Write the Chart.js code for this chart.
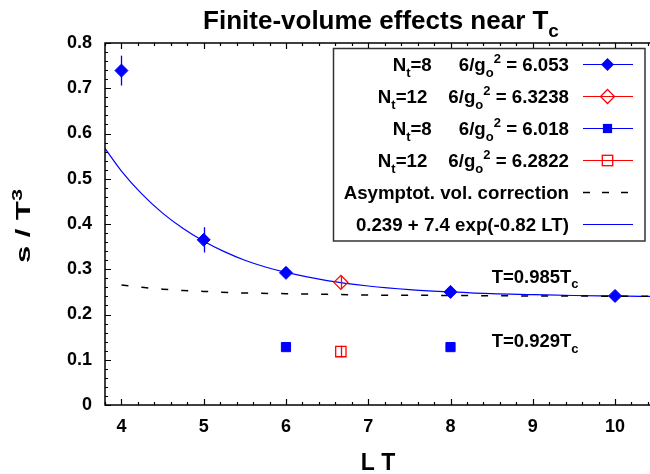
<!DOCTYPE html>
<html><head><meta charset="utf-8">
<script src="https://cdn.jsdelivr.net/npm/chart.js@4.4.1/dist/chart.umd.min.js"></script>
<style>html,body{margin:0;padding:0;background:#fff;overflow:hidden}</style>
</head><body>
<canvas id="c" width="650" height="474"></canvas>
<script>
// ---- data ----
const xTicks = [4, 5, 6, 7, 8, 9, 10];
const yTicks = [0, 0.1, 0.2, 0.3, 0.4, 0.5, 0.6, 0.7, 0.8];

// Nt=8, 6/g0^2 = 6.053 (T = 0.985 Tc)
const ltA  = [4, 5, 6, 8, 10];
const sA   = [0.739, 0.365, 0.292, 0.250, 0.241];
const errA = [0.033, 0.028, 0.005, 0.004, 0.003];
// Nt=12, 6/g0^2 = 6.3238
const ltB  = [6.667];
const sB   = [0.271];
const errB = [0.015];
// Nt=8, 6/g0^2 = 6.018 (T = 0.929 Tc)
const ltC  = [6, 8];
const sC   = [0.128, 0.128];
const errC = [0.003, 0.003];
// Nt=12, 6/g0^2 = 6.2822
const ltD  = [6.667];
const sD   = [0.118];
const errD = [0.013];
// fit curve
const fitLT = [3.8, 4, 4.25, 4.5, 4.75, 5, 5.25, 5.5, 5.75, 6, 6.5, 7, 7.5, 8, 8.5, 9, 9.5, 10, 10.425];
const fitS  = [0.567, 0.517, 0.466, 0.424, 0.390, 0.362, 0.339, 0.320, 0.305, 0.293, 0.275, 0.263, 0.255, 0.250, 0.246, 0.244, 0.242, 0.241, 0.240];
// asymptotic volume correction (dashed)
const asyLT = [4, 4.25, 4.5, 4.75, 5, 5.5, 6, 6.5, 7, 7.5, 8, 8.5, 9, 9.5, 10, 10.425];
const asyS  = [0.265, 0.260, 0.256, 0.253, 0.251, 0.2475, 0.246, 0.2445, 0.243, 0.2425, 0.242, 0.2415, 0.241, 0.2408, 0.2405, 0.2403];

const legendRows = [
  {n: [['N',0],['t',1],['=8',0]],  g: [['6/g',0],['o',1],['2',2],[' = 6.053',0]],  gap: 27, kind: 'A'},
  {n: [['N',0],['t',1],['=12',0]], g: [['6/g',0],['o',1],['2',2],[' = 6.3238',0]], gap: 21, kind: 'B'},
  {n: [['N',0],['t',1],['=8',0]],  g: [['6/g',0],['o',1],['2',2],[' = 6.018',0]],  gap: 27, kind: 'C'},
  {n: [['N',0],['t',1],['=12',0]], g: [['6/g',0],['o',1],['2',2],[' = 6.2822',0]], gap: 21, kind: 'D'},
  {n: null, g: [['Asymptot. vol. correction',0]], kind: 'asy'},
  {n: null, g: [['0.239 + 7.4 exp(-0.82 LT)',0]], kind: 'fit'}
];
const annotations = [
  {x: 8.5, y: 0.27,  segs: [['T=0.985T',0],['c',1]]},
  {x: 8.5, y: 0.128, segs: [['T=0.929T',0],['c',1]]}
];

// ---- styling ----
const FONT = '"Liberation Sans", Arial, Helvetica, sans-serif';
const BLUE = '#0000ff', RED = '#ff0000';

function richWidth(ctx, segs, size) {
  let w = 0;
  segs.forEach(([t, m]) => { ctx.font = `bold ${m ? Math.round(size*0.72) : size}px ${FONT}`; w += ctx.measureText(t).width; });
  return w;
}
function drawRich(ctx, segs, x, y, align, size) {
  const total = richWidth(ctx, segs, size);
  let cx = align === 'right' ? x - total : align === 'center' ? x - total/2 : x;
  ctx.textAlign = 'left'; ctx.textBaseline = 'alphabetic'; ctx.fillStyle = '#000';
  segs.forEach(([t, m]) => {
    const sz = m ? Math.round(size*0.72) : size;
    ctx.font = `bold ${sz}px ${FONT}`;
    const dy = m === 1 ? size*0.3 : m === 2 ? -size*0.42 : 0;
    ctx.fillText(t, cx, y + dy);
    cx += ctx.measureText(t).width;
  });
  return total;
}
function marker(ctx, kind, x, y) {
  ctx.save();
  ctx.lineWidth = 1.3;
  if (kind === 'A' || kind === 'B') {
    const r = kind === 'A' ? 6.5 : 7;
    ctx.beginPath(); ctx.moveTo(x, y-r); ctx.lineTo(x+r, y); ctx.lineTo(x, y+r); ctx.lineTo(x-r, y); ctx.closePath();
    if (kind === 'A') { ctx.fillStyle = BLUE; ctx.fill(); } else { ctx.strokeStyle = RED; ctx.stroke(); }
  } else {
    const h = kind === 'C' ? 4.6 : 5.2;
    if (kind === 'C') { ctx.fillStyle = BLUE; ctx.fillRect(x-h, y-h, 2*h, 2*h); }
    else { ctx.strokeStyle = RED; ctx.strokeRect(x-h, y-h, 2*h, 2*h); }
  }
  ctx.restore();
}

const errorSets = [
  {lt: ltA, s: sA, e: errA, color: BLUE},
  {lt: ltB, s: sB, e: errB, color: RED},
  {lt: ltC, s: sC, e: errC, color: BLUE},
  {lt: ltD, s: sD, e: errD, color: RED}
];

const decorPlugin = {
  id: 'decor',
  afterDatasetsDraw(chart) {
    const {ctx, chartArea: a, scales: {x, y}} = chart;
    ctx.save();
    ctx.beginPath(); ctx.rect(a.left, a.top, a.right - a.left, a.bottom - a.top); ctx.clip();
    ctx.lineWidth = 1.3;
    errorSets.forEach(set => {
      ctx.strokeStyle = set.color;
      set.lt.forEach((v, i) => {
        const px = Math.round(x.getPixelForValue(v)) + 0.5;
        ctx.beginPath();
        ctx.moveTo(px, y.getPixelForValue(set.s[i] - set.e[i]));
        ctx.lineTo(px, y.getPixelForValue(set.s[i] + set.e[i]));
        ctx.stroke();
      });
    });
    ctx.restore();
  },
  afterDraw(chart) {
    const {ctx, chartArea: a, scales: {x, y}} = chart;
    ctx.save();
    // frame
    ctx.strokeStyle = '#000'; ctx.lineWidth = 1.5;
    ctx.beginPath();
    ctx.moveTo(a.right + 2, a.top); ctx.lineTo(a.left, a.top); ctx.lineTo(a.left, a.bottom); ctx.lineTo(a.right + 2, a.bottom);
    ctx.stroke();
    // ticks (inward), major + minor
    ctx.lineWidth = 1.2;
    ctx.beginPath();
    for (let k = Math.ceil(x.min * 5); k <= Math.floor(x.max * 5); k++) {
      const v = k / 5, px = Math.round(x.getPixelForValue(v)) + 0.5;
      const len = (k % 5 === 0) ? 6 : 3;
      ctx.moveTo(px, a.bottom); ctx.lineTo(px, a.bottom - len);
      ctx.moveTo(px, a.top); ctx.lineTo(px, a.top + len);
    }
    for (let k = 0; k <= 40; k++) {
      const v = k / 50, py = Math.round(y.getPixelForValue(v)) + 0.5;
      const len = (k % 5 === 0) ? 6 : 3;
      ctx.moveTo(a.left, py); ctx.lineTo(a.left + len, py);
    }
    ctx.stroke();

    // title
    drawRich(ctx, [['Finite-volume effects near T',0],['c',1]], 381, 29, 'center', 26);
    // x title
    ctx.font = `bold 23px ${FONT}`; ctx.textAlign = 'center'; ctx.textBaseline = 'alphabetic'; ctx.fillStyle = '#000';
    ctx.fillText('L T', 378, 470);
    // y title (rotated)
    ctx.save();
    ctx.translate(30, 226);
    ctx.rotate(-Math.PI/2);
    ctx.scale(1.55, 1);
    drawRich(ctx, [['s / T',0],['3',2]], 0, 0, 'center', 20);
    ctx.restore();

    // annotations
    annotations.forEach(an => drawRich(ctx, an.segs, x.getPixelForValue(an.x), y.getPixelForValue(an.y), 'left', 18.5));

    // legend box
    ctx.fillStyle = '#fff';
    ctx.fillRect(333, 48, 312, 193);
    ctx.strokeStyle = '#333'; ctx.lineWidth = 1.5;
    ctx.strokeRect(333.5, 48.5, 311.5, 192.5);
    legendRows.forEach((row, i) => {
      const base = 71 + i * 32;
      const w = drawRich(ctx, row.g, 569, base, 'right', 18.7);
      if (row.n) drawRich(ctx, row.n, 569 - w - row.gap, base, 'right', 18.7);
      const cy = base - 6.5;
      ctx.save();
      ctx.lineWidth = 1.2;
      if (row.kind === 'asy') { ctx.strokeStyle = '#000'; ctx.setLineDash([7, 12]); ctx.lineWidth = 1.5; }
      else ctx.strokeStyle = (row.kind === 'B' || row.kind === 'D') ? RED : BLUE;
      ctx.beginPath(); ctx.moveTo(583, cy); ctx.lineTo(633, cy); ctx.stroke();
      ctx.restore();
      if (row.kind.length === 1) marker(ctx, row.kind, 607.5, cy);
    });
    ctx.restore();
  }
};

const pts = (xs, ys) => xs.map((v, i) => ({x: v, y: ys[i]}));

new Chart(document.getElementById('c'), {
  type: 'scatter',
  data: {
    datasets: [
      {label: 'Nt=8 6/g0^2 = 6.053', data: pts(ltA, sA), pointStyle: 'rectRot', pointRadius: 6.5,
       backgroundColor: BLUE, borderColor: BLUE, borderWidth: 1, showLine: false},
      {label: 'Nt=12 6/g0^2 = 6.3238', data: pts(ltB, sB), pointStyle: 'rectRot', pointRadius: 7,
       backgroundColor: 'rgba(0,0,0,0)', borderColor: RED, borderWidth: 1.3, showLine: false},
      {label: 'Nt=8 6/g0^2 = 6.018', data: pts(ltC, sC), pointStyle: 'rect', pointRadius: 6.5,
       backgroundColor: BLUE, borderColor: BLUE, borderWidth: 1, showLine: false},
      {label: 'Nt=12 6/g0^2 = 6.2822', data: pts(ltD, sD), pointStyle: 'rect', pointRadius: 7.3,
       backgroundColor: 'rgba(0,0,0,0)', borderColor: RED, borderWidth: 1.3, showLine: false},
      {label: 'Asymptot. vol. correction', data: pts(asyLT, asyS), showLine: true, pointRadius: 0,
       borderColor: '#000', borderWidth: 1.5, borderDash: [7, 13], cubicInterpolationMode: 'monotone', fill: false},
      {label: '0.239 + 7.4 exp(-0.82 LT)', data: pts(fitLT, fitS), showLine: true, pointRadius: 0,
       borderColor: BLUE, borderWidth: 1.2, cubicInterpolationMode: 'monotone', fill: false}
    ]
  },
  options: {
    responsive: false, animation: false, devicePixelRatio: 1,
    layout: {padding: {left: 0, right: 0, top: 43, bottom: 0}, autoPadding: false},
    plugins: {legend: {display: false}, title: {display: false}, tooltip: {enabled: false}},
    scales: {
      x: {
        type: 'linear', min: 3.8, max: 10.425,
        afterBuildTicks: s => { s.ticks = xTicks.map(v => ({value: v})); },
        afterFit: s => { s.height = 69; s.paddingLeft = 0; s.paddingRight = 0; },
        grid: {display: false, drawTicks: false}, border: {display: false},
        ticks: {color: '#000', padding: 11, maxRotation: 0, font: {family: FONT, size: 18, weight: 'bold'},
                callback: v => String(v)}
      },
      y: {
        type: 'linear', min: 0, max: 0.8,
        afterBuildTicks: s => { s.ticks = yTicks.map(v => ({value: v})); },
        afterFit: s => { s.width = 105; s.paddingTop = 0; s.paddingBottom = 0; },
        grid: {display: false, drawTicks: false}, border: {display: false},
        ticks: {color: '#000', padding: 13, font: {family: FONT, size: 18, weight: 'bold'},
                callback: v => v === 0 ? '0' : v.toFixed(1)}
      }
    }
  },
  plugins: [decorPlugin]
});
</script>
</body></html>
